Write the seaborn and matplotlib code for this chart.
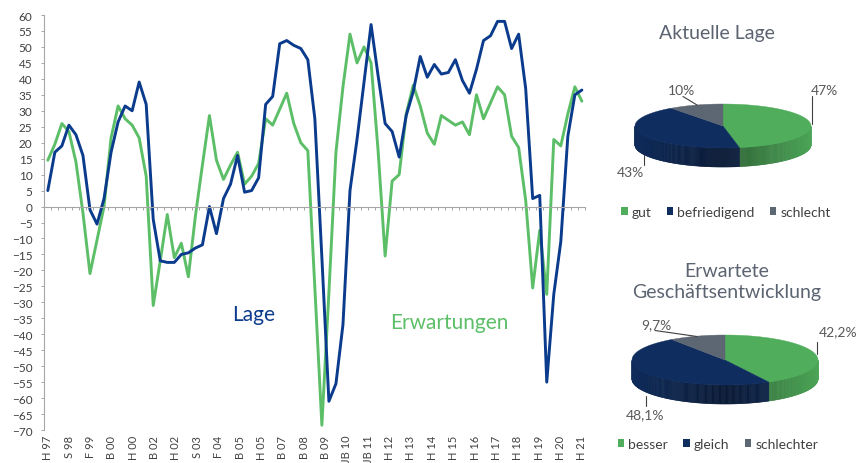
import numpy as np
import pandas as pd
import matplotlib
matplotlib.use("Agg")
import matplotlib.pyplot as plt
import seaborn as sns
from matplotlib.patches import Polygon, Patch
from matplotlib.colors import to_rgb

# Salden der Umfragen (H 97 ... H 21)
lage = [5, 17, 19, 25.5, 22.5, 16, -1, -5.5, 2.5, 17, 26.5, 31.5, 30, 39, 32,
        -4, -17, -17.5, -17.5, -15, -14.5, -13, -12, 0, -8.5, 2.5, 7, 16, 4.5,
        5, 9, 32, 34.5, 51, 52, 50.5, 49.5, 46, 27.5, -16, -61, -55.5, -37, 5,
        21, 39, 57, 41, 26, 23.5, 15.5, 28.5, 36, 47, 40.5, 44.5, 41.5, 42, 46,
        39.5, 35.5, 43, 52, 53.5, 58, 58, 49.5, 54, 37, 2.5, 3.5, -55, -27.5,
        -11, 22, 35, 36.5]
erwartungen = [14.5, 19.5, 26, 23.5, 14, -2, -21, -10.5, 0, 21.5, 31.5, 27.5,
               25.5, 21.5, 9.5, -31, -17, -2.5, -16, -11.5, -22, -3, 13, 28.5,
               14.5, 8.5, 13, 17, 7, 9.5, 13.5, 27.5, 25.5, 30.5, 35.5, 26, 20,
               17.5, -25.5, -68.5, -27, 17, 37.5, 54, 45, 50, 45, 17.5, -15.5,
               8, 10, 29, 38, 31.5, 23, 19.5, 28.5, 27, 25.5, 26.5, 22.5, 35,
               27.5, 32.5, 37.5, 35, 22, 18.5, 2, -25.5, -7.5, -27.5, 21, 19,
               29, 37.5, 33]
tick_labels = ["H 97", "S 98", "F 99", "B 00", "H 00", "B 02", "H 02", "S 03",
               "F 04", "B 05", "H 05", "B 07", "B 08", "B 09", "JB 10", "JB 11",
               "H 12", "H 13", "H 14", "H 15", "H 16", "H 17", "H 18", "H 19",
               "H 20", "H 21"]

lage_kat = ["gut", "befriedigend", "schlecht"]
lage_anteil = [47, 43, 10]
lage_text = ["47%", "43%", "10%"]
erw_kat = ["besser", "gleich", "schlechter"]
erw_anteil = [42.2, 48.1, 9.7]
erw_text = ["42,2%", "48,1%", "9,7%"]

BLAU = "#0b3b8c"
GRUEN = "#5cbf68"
PIE_FARBEN = ["#4fad5b", "#0f2d5f", "#5d6673"]
GRAU = "#5b6470"
ACHSE = "#a6a6a6"

sns.set_theme(style="white")
plt.rcParams['font.family'] = ['Lato', 'DejaVu Sans']

W, H = 859, 464
fig = plt.figure(figsize=(W / 100, H / 100), dpi=100)

# --- Liniendiagramm ---
ax = fig.add_axes([44.3 / W, 1 - 431 / H, (585.4 - 44.3) / W, (431 - 16) / H])
n = len(lage)
df = pd.DataFrame({
    'Umfrage': np.tile(np.arange(n), 2),
    'Saldo': erwartungen + lage,
    'Reihe': ['Erwartungen'] * n + ['Lage'] * n,
})
sns.lineplot(data=df, x='Umfrage', y='Saldo', hue='Reihe',
             hue_order=['Erwartungen', 'Lage'],
             palette={'Lage': BLAU, 'Erwartungen': GRUEN},
             linewidth=2.1, legend=False, ax=ax)

ax.set_xlim(-0.5, n - 0.5)
ax.set_ylim(-70, 60)
ax.set_yticks(range(-70, 61, 5))
ax.set_xlabel('')
ax.set_ylabel('')
for s in ['top', 'right']:
    ax.spines[s].set_visible(False)
ax.spines['left'].set_color(ACHSE)
ax.spines['left'].set_linewidth(0.8)
ax.spines['bottom'].set_position(('data', 0))
ax.spines['bottom'].set_color(ACHSE)
ax.spines['bottom'].set_linewidth(0.8)
ax.set_xticks(np.arange(-0.5, n, 1))
ax.tick_params(axis='x', bottom=True, length=2.5, width=0.7, color=ACHSE,
               labelbottom=False, direction='out')
ax.tick_params(axis='y', left=True, length=2.5, width=0.7, color=ACHSE,
               labelsize=8.5, labelcolor='#404040', pad=6)

sec = ax.secondary_xaxis('bottom')
sec.set_xticks(np.linspace(0, n - 1, len(tick_labels)), tick_labels, rotation=90)
sec.tick_params(length=0, labelsize=8, labelcolor='#404040', pad=3.5)
sec.spines['bottom'].set_visible(False)

# --- Overlay in Pixelkoordinaten ---
ov = fig.add_axes([0, 0, 1, 1])
ov.set_xlim(0, W)
ov.set_ylim(H, 0)
ov.axis('off')

ov.text(254, 315, "Lage", color=BLAU, fontsize=15, ha='center', va='center')
ov.text(449, 323, "Erwartungen", color=GRUEN, fontsize=15, ha='center', va='center')


def pie3d(ax, werte, farben, cx, cy, a, b, tiefe):
    total = sum(werte)
    start = 90.0
    tops = []
    for v, c in zip(werte, farben):
        end = start - 360.0 * v / total
        t = np.radians(np.linspace(start, end, 240))
        xs = cx + a * np.cos(t)
        ys = cy - b * np.sin(t)
        tops.append((np.column_stack([np.r_[cx, xs], np.r_[cy, ys]]), c))
        vorne = np.sin(t) < 0
        base = np.array(to_rgb(c))
        for k in range(len(t) - 1):
            if vorne[k] and vorne[k + 1]:
                col = tuple(np.clip(base * (0.55 + 0.4 * abs(np.cos(t[k]))), 0, 1))
                quad = [(xs[k], ys[k]), (xs[k + 1], ys[k + 1]),
                        (xs[k + 1], ys[k + 1] + tiefe), (xs[k], ys[k] + tiefe)]
                ax.add_patch(Polygon(quad, closed=True, facecolor=col,
                                     edgecolor=col, lw=0.4))
        start = end
    for poly, c in tops:
        ax.add_patch(Polygon(poly, closed=True, facecolor=c, edgecolor=c, lw=0.3))


# Aktuelle Lage
ov.text(717, 33, "Aktuelle Lage", color=GRAU, fontsize=14, ha='center', va='center')
pie3d(ov, lage_anteil, PIE_FARBEN, 723, 127, 88, 22, 19)
ov.plot([811.7, 811.7], [97, 125], color='#404040', lw=0.8)
ov.plot([683, 697], [97.5, 106], color='#404040', lw=0.8)
ov.plot([644, 644], [156, 166], color='#404040', lw=0.8)
ov.text(824, 91, lage_text[0], color='#595959', fontsize=10, ha='center', va='center')
ov.text(630, 173, lage_text[1], color='#595959', fontsize=10, ha='center', va='center')
ov.text(681, 91, lage_text[2], color='#595959', fontsize=10, ha='center', va='center')
h1 = [Patch(facecolor=c, edgecolor='none') for c in PIE_FARBEN]
leg1 = ov.legend(h1, lage_kat, loc='center', bbox_to_anchor=(726, 213),
                 bbox_transform=ov.transData, ncol=3, frameon=False,
                 handlelength=0.45, handleheight=0.45, handletextpad=0.3,
                 columnspacing=1.1, fontsize=10, labelcolor='#404040')
ov.add_artist(leg1)

# Erwartete Geschäftsentwicklung
ov.text(727, 282, "Erwartete\nGeschäftsentwicklung", color=GRAU, fontsize=14,
        ha='center', va='center', linespacing=1.25)
pie3d(ov, erw_anteil, PIE_FARBEN, 725, 361, 93, 25, 19)
ov.plot([817, 817], [343, 355], color='#404040', lw=0.8)
ov.plot([655, 697], [331.5, 337.5], color='#404040', lw=0.8)
ov.plot([645.7, 645.7], [397, 407], color='#404040', lw=0.8)
ov.text(838, 332, erw_text[0], color='#595959', fontsize=10, ha='center', va='center')
ov.text(645, 415, erw_text[1], color='#595959', fontsize=10, ha='center', va='center')
ov.text(656, 325, erw_text[2], color='#595959', fontsize=10, ha='center', va='center')
h2 = [Patch(facecolor=c, edgecolor='none') for c in PIE_FARBEN]
ov.legend(h2, erw_kat, loc='center', bbox_to_anchor=(718, 445),
          bbox_transform=ov.transData, ncol=3, frameon=False,
          handlelength=0.45, handleheight=0.45, handletextpad=0.3,
          columnspacing=1.1, fontsize=10, labelcolor='#404040')

fig.savefig('out.png', dpi=100)
